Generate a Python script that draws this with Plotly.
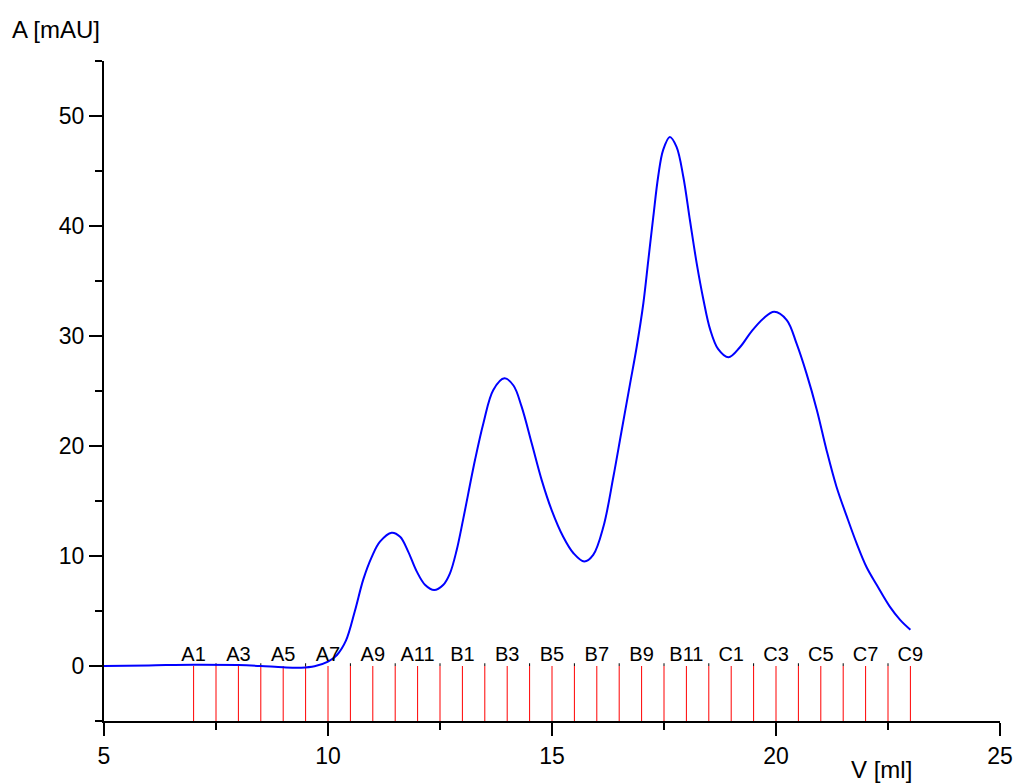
import plotly.graph_objects as go

# Chromatogram trace (V in ml, A in mAU)
vol = [5.0, 6.0, 7.0, 8.0, 8.5, 9.0, 9.4, 9.7, 10.0, 10.2, 10.4, 10.6, 10.79, 10.98,
       11.16, 11.42, 11.61, 11.79, 11.98, 12.17, 12.37, 12.57, 12.72, 12.87, 13.02,
       13.28, 13.47, 13.69, 13.94, 14.14, 14.32, 14.55, 14.77, 14.99, 15.25, 15.48,
       15.72, 15.92, 16.15, 16.37, 16.55, 16.74, 16.89, 17.04, 17.15, 17.26, 17.37,
       17.48, 17.63, 17.78, 17.93, 18.08, 18.23, 18.38, 18.53, 18.71, 18.94, 19.19,
       19.45, 19.72, 19.96, 20.24, 20.46, 20.68, 20.91, 21.13, 21.35, 21.58, 21.8,
       22.02, 22.25, 22.54, 22.77, 23.0]
absorb = [0.0, 0.05, 0.12, 0.08, 0.0, -0.12, -0.15, -0.02, 0.4, 1.0, 2.3, 5.0, 7.9, 9.95,
          11.3, 12.12, 11.75, 10.4, 8.6, 7.36, 6.9, 7.36, 8.4, 10.5, 13.4,
          18.7, 22.1, 25.1, 26.15, 25.5, 23.6, 20.2, 16.9, 14.2, 11.75, 10.25,
          9.5, 10.1, 12.7, 17.2, 21.3, 25.6, 29.0, 33.0, 36.9, 40.8, 44.5,
          46.9, 48.1, 47.2, 44.5, 40.5, 36.6, 33.3, 30.6, 28.8, 28.06, 28.95,
          30.4, 31.6, 32.2, 31.45, 29.3, 26.6, 23.3, 19.6, 16.3, 13.6, 11.15,
          9.0, 7.36, 5.4, 4.2, 3.3]

# Fractions
frac_names = (["A%d" % i for i in range(1, 13)] + ["B%d" % i for i in range(1, 13)]
              + ["C%d" % i for i in range(1, 10)])
frac_start = 7.0
frac_step = 0.5
frac_x = [frac_start + frac_step * i for i in range(len(frac_names))]

x_range = [5, 25]
y_range = [-5, 55]

FONT = "Liberation Sans, Arial"

fig = go.Figure()

# red fraction lines
lx, ly = [], []
for fx in frac_x:
    lx += [fx, fx, None]
    ly += [y_range[0], 0, None]
fig.add_trace(go.Scatter(x=lx, y=ly, mode="lines", line=dict(color="#ff0000", width=1),
                         hoverinfo="skip", showlegend=False))

# small black marks on unlabeled fractions
bx, by = [], []
for i, fx in enumerate(frac_x):
    if i % 2 == 1:
        bx += [fx, fx, None]
        by += [0, 0.25, None]
fig.add_trace(go.Scatter(x=bx, y=by, mode="lines", line=dict(color="black", width=1),
                         hoverinfo="skip", showlegend=False))

# curve
fig.add_trace(go.Scatter(x=vol, y=absorb, mode="lines",
                         line=dict(color="#0000ff", width=2, shape="spline", smoothing=1.0,
                                   simplify=False),
                         showlegend=False))

# fraction labels (every other)
lab_x = [fx for i, fx in enumerate(frac_x) if i % 2 == 0]
lab_t = [n for i, n in enumerate(frac_names) if i % 2 == 0]
fig.add_trace(go.Scatter(x=lab_x, y=[0] * len(lab_x), mode="text", text=lab_t,
                         textposition="top center",
                         textfont=dict(family=FONT, size=20, color="black"),
                         hoverinfo="skip", showlegend=False))

axis_common = dict(showline=True, linecolor="black", linewidth=2, ticks="outside",
                   tickcolor="black", tickwidth=2, ticklen=13, showgrid=False, zeroline=False,
                   automargin=False,
                   tickfont=dict(family=FONT, size=23, color="black"))

fig.update_xaxes(range=x_range, tick0=5, dtick=5,
                 minor=dict(ticks="outside", dtick=2.5, tick0=5, ticklen=7, tickwidth=2,
                            tickcolor="black"),
                 **axis_common)
fig.update_yaxes(range=y_range, tick0=0, dtick=10,
                 minor=dict(ticks="outside", dtick=5, tick0=0, ticklen=7, tickwidth=2,
                            tickcolor="black"),
                 **axis_common)

fig.add_annotation(text="A [mAU]", xref="paper", yref="paper", x=-0.105, y=1.048,
                   xanchor="left", yanchor="middle", showarrow=False,
                   font=dict(family=FONT, size=24, color="black"))
fig.add_annotation(text="V [ml]", xref="paper", yref="paper", x=0.868, y=-0.074,
                   xanchor="center", yanchor="middle", showarrow=False,
                   font=dict(family=FONT, size=24, color="black"))

fig.update_layout(width=1018, height=783, margin=dict(l=104, r=18, t=61, b=62),
                  plot_bgcolor="white", paper_bgcolor="white")

fig.write_html("out.html")
